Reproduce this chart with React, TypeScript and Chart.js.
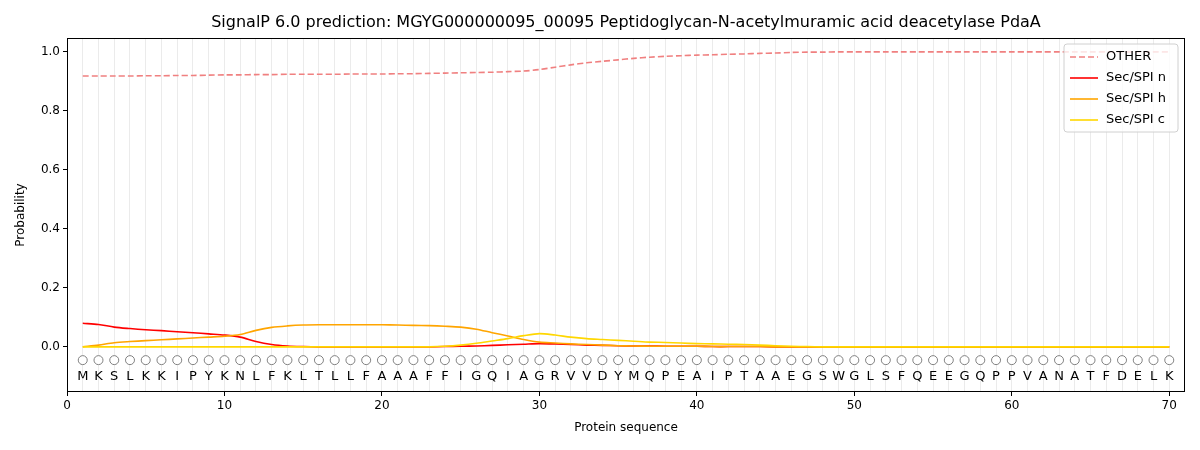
import React, { useEffect, useRef } from "react";
import { Chart, registerables } from "chart.js";
Chart.register(...registerables);

const sequence = "MKSLKKIPYKNLFKLTLLFAAAFFIGQIAGRVVDYMQPEAIPTAAEGSWGLSFQEEGQPPVANATFDELK".split("");
const positions = sequence.map((_, i) => i + 1);
const otherVals = [0.918,0.918,0.918,0.918,0.919,0.919,0.92,0.92,0.921,0.922,0.922,0.923,0.923,0.924,0.924,0.924,0.924,0.925,0.925,0.925,0.926,0.926,0.927,0.928,0.929,0.93,0.931,0.933,0.935,0.94,0.948,0.956,0.963,0.968,0.973,0.978,0.982,0.985,0.987,0.989,0.99,0.992,0.993,0.995,0.996,0.998,0.999,0.999,1,1,1,1,1,1,1,1,1,1,1,1,1,1,1,1,1,1,1,1,1,1];
const secN = [0.08,0.076,0.067,0.062,0.058,0.055,0.051,0.048,0.044,0.04,0.033,0.018,0.008,0.003,0.001,0,0,0,0,0,0,0,0,0.001,0.002,0.003,0.005,0.007,0.009,0.011,0.01,0.008,0.006,0.005,0.004,0.003,0.003,0.002,0.002,0.002,0.001,0.001,0.001,0.001,0,0,0,0,0,0,0,0,0,0,0,0,0,0,0,0,0,0,0,0,0,0,0,0,0,0];
const secH = [0,0.006,0.014,0.018,0.021,0.024,0.027,0.03,0.033,0.036,0.042,0.056,0.066,0.071,0.074,0.075,0.075,0.075,0.075,0.075,0.074,0.073,0.072,0.07,0.067,0.06,0.048,0.037,0.025,0.016,0.013,0.01,0.008,0.006,0.004,0.003,0.002,0.002,0.002,0.002,0.001,0.001,0.001,0.001,0,0,0,0,0,0,0,0,0,0,0,0,0,0,0,0,0,0,0,0,0,0,0,0,0,0];
const secC = [0,0,0,0,0,0,0,0,0,0,0,0,0,0,0,0,0,0,0,0,0,0,0,0.002,0.006,0.012,0.02,0.028,0.038,0.045,0.04,0.033,0.028,0.025,0.022,0.019,0.016,0.015,0.013,0.011,0.01,0.009,0.008,0.006,0.004,0.002,0.001,0,0,0,0,0,0,0,0,0,0,0,0,0,0,0,0,0,0,0,0,0,0,0];
const yTicks = [0, 0.2, 0.4, 0.6, 0.8, 1.0];
const xTickLabels = [0, 10, 20, 30, 40, 50, 60, 70];
const titleText = "SignalP 6.0 prediction: MGYG000000095_00095 Peptidoglycan-N-acetylmuramic acid deacetylase PdaA";
const legendItems = [
  { label: "OTHER", color: "#f08080", dash: [6, 3] },
  { label: "Sec/SPI n", color: "#ff0000", dash: [] },
  { label: "Sec/SPI h", color: "#ffa500", dash: [] },
  { label: "Sec/SPI c", color: "#ffd700", dash: [] },
];
const FONT = "'DejaVu Sans', sans-serif";

const pts = (vals: number[]) => vals.map((v, i) => ({ x: positions[i], y: v }));

export default function App() {
  const ref = useRef<HTMLCanvasElement>(null);
  useEffect(() => {
    document.body.style.margin = "0";
    const overlay = {
      id: "overlay",
      afterDraw(chart: any) {
        const ctx = chart.ctx;
        const xs = chart.scales.x, ys = chart.scales.y;
        const ca = chart.chartArea;
        ctx.save();
        ctx.strokeStyle = "#000";
        ctx.lineWidth = 1;
        ctx.strokeRect(ca.left + 0.5, ca.top + 0.5, ca.right - ca.left - 1, ca.bottom - ca.top - 1);
        ctx.fillStyle = "#000";
        ctx.font = `16px ${FONT}`;
        ctx.textAlign = "center";
        ctx.textBaseline = "middle";
        ctx.fillText(titleText, (ca.left + ca.right) / 2, 23);
        ctx.font = `13px ${FONT}`;
        sequence.forEach((s, i) => {
          ctx.fillText(s, xs.getPixelForValue(positions[i]), ys.getPixelForValue(-0.1));
        });
        ctx.font = `12px ${FONT}`;
        ctx.fillText("Protein sequence", (ca.left + ca.right) / 2, 428);
        ctx.save();
        ctx.translate(21, (ca.top + ca.bottom) / 2);
        ctx.rotate(-Math.PI / 2);
        ctx.fillText("Probability", 0, 0);
        ctx.restore();
        ctx.font = `13px ${FONT}`;
        const bx = 1064, by = 44, bw = 114, bh = 88;
        ctx.fillStyle = "rgba(255,255,255,0.8)";
        ctx.strokeStyle = "#d0d0d0";
        ctx.lineWidth = 1;
        ctx.beginPath();
        ctx.roundRect(bx, by, bw, bh, 3);
        ctx.fill(); ctx.stroke();
        ctx.textAlign = "left";
        legendItems.forEach((it, i) => {
          const y = by + 13 + i * 21;
          ctx.strokeStyle = it.color;
          ctx.lineWidth = 1.6;
          ctx.setLineDash(it.dash);
          ctx.beginPath(); ctx.moveTo(bx + 6, y); ctx.lineTo(bx + 34, y); ctx.stroke();
          ctx.setLineDash([]);
          ctx.fillStyle = "#000";
          ctx.fillText(it.label, bx + 42, y);
        });
        ctx.restore();
      },
    };
    const chart = new Chart(ref.current!, {
      type: "line",
      data: {
        datasets: [
          { label: "OTHER", order: 4, data: pts(otherVals), borderColor: "#f08080", borderDash: [6, 3], borderWidth: 1.6, pointRadius: 0, tension: 0.3 },
          { label: "Sec/SPI n", order: 3, data: pts(secN), borderColor: "#ff0000", borderWidth: 1.6, pointRadius: 0, tension: 0.3 },
          { label: "Sec/SPI h", order: 2, data: pts(secH), borderColor: "#ffa500", borderWidth: 1.6, pointRadius: 0, tension: 0.3 },
          { label: "Sec/SPI c", order: 1, data: pts(secC), borderColor: "#ffd700", borderWidth: 1.6, pointRadius: 0, tension: 0.3 },
          { label: "marks", order: 0, data: positions.map((p) => ({ x: p, y: -0.045 })), showLine: false, pointRadius: 4.5, pointBackgroundColor: "#fff", pointBorderColor: "#808080", pointBorderWidth: 1, borderColor: "transparent" },
        ],
      },
      options: {
        animation: false,
        responsive: false,
        layout: { padding: { top: 38, right: 15, left: 0, bottom: 0 } },
        plugins: { legend: { display: false }, title: { display: false }, tooltip: { enabled: false } },
        scales: {
          x: {
            type: "linear", min: 0, max: 71,
            afterBuildTicks: (s: any) => { s.ticks = Array.from({ length: 72 }, (_, i) => ({ value: i })); },
            afterFit: (s: any) => { s.height = 58; },
            ticks: { autoSkip: false, maxRotation: 0, color: "#000", font: { family: FONT, size: 12 },
              callback: (v: any) => (xTickLabels.includes(v) ? String(v) : "") },
            grid: { color: (c: any) => (c.tick && c.tick.value >= 1 && c.tick.value <= 70 ? "rgba(0,0,0,0.08)" : "transparent"),
              tickColor: (c: any) => (c.tick && xTickLabels.includes(c.tick.value) ? "#000" : "transparent"), tickLength: 4, drawOnChartArea: true },
            border: { display: false },
          },
          y: {
            type: "linear", min: -0.153, max: 1.047,
            afterBuildTicks: (s: any) => { s.ticks = yTicks.map((v) => ({ value: v })); },
            afterFit: (s: any) => { s.width = 67; },
            ticks: { color: "#000", font: { family: FONT, size: 12 }, callback: (v: any) => Number(v).toFixed(1) },
            grid: { drawOnChartArea: false, tickColor: "#000", tickLength: 4 },
            border: { display: false },
          },
        },
      },
      plugins: [overlay],
    } as any);
    return () => chart.destroy();
  }, []);
  return <canvas ref={ref} width={1200} height={450} style={{ display: "block" }} />;
}
